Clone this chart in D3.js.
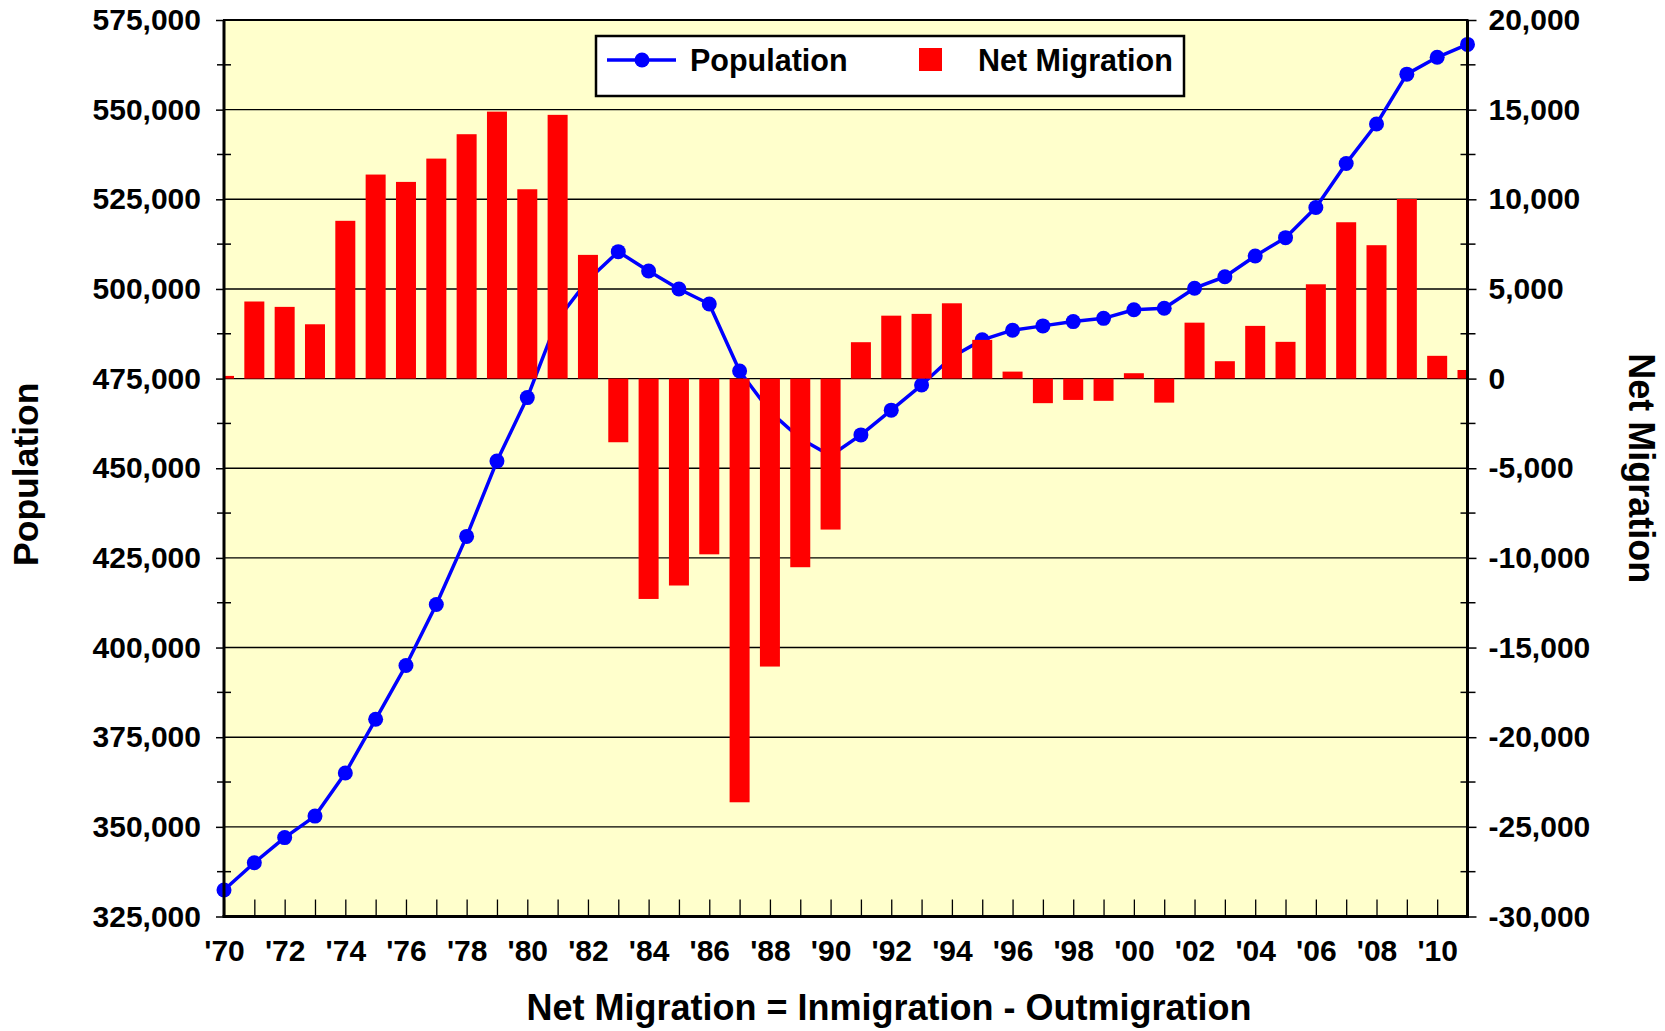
<!DOCTYPE html>
<html>
<head>
<meta charset="utf-8">
<script src="https://cdn.jsdelivr.net/npm/d3@7"></script>
<style>
  body { margin: 0; background: #ffffff; }
  svg text { font-family: "Liberation Sans", Arial, Helvetica, sans-serif; font-weight: bold; fill: #000; }
</style>
</head>
<body>
<svg id="chart" width="1665" height="1031"></svg>
<script>
// ---------------- DATA ----------------
const years = [1970,1971,1972,1973,1974,1975,1976,1977,1978,1979,
               1980,1981,1982,1983,1984,1985,1986,1987,1988,1989,
               1990,1991,1992,1993,1994,1995,1996,1997,1998,1999,
               2000,2001,2002,2003,2004,2005,2006,2007,2008,2009,
               2010,2011];

const population = [332400,340000,347000,353000,365000,380000,395000,412000,431000,452000,
                    469700,491500,502500,510400,505000,500000,495800,477100,465800,458300,
                    453500,459300,466200,473200,481000,485800,488500,489700,490900,491800,
                    494200,494600,500200,503400,509200,514300,522700,535000,546000,559900,
                    564600,568200];

const netMigration = [150,4300,4000,3030,8800,11380,10970,12270,13630,14890,
                      10560,14710,6900,-3550,-12290,-11540,-9800,-23630,-16060,-10520,
                      -8420,2030,3510,3610,4200,2160,390,-1370,-1190,-1240,
                      300,-1340,3120,970,2940,2050,5260,8720,7440,10020,
                      1270,480];

const popTicks = [325000,350000,375000,400000,425000,450000,475000,500000,525000,550000,575000];
const popMinorTicks = [337500,362500,387500,412500,437500,462500,487500,512500,537500,562500];
const migTicks = [-30000,-25000,-20000,-15000,-10000,-5000,0,5000,10000,15000,20000];
const migMinorTicks = [-27500,-22500,-17500,-12500,-7500,-2500,2500,7500,12500,17500];
const yearLabelYears = [1970,1972,1974,1976,1978,1980,1982,1984,1986,1988,1990,
                        1992,1994,1996,1998,2000,2002,2004,2006,2008,2010];

const seriesNames = ["Population", "Net Migration"];
const titles = {
  left: "Population",
  right: "Net Migration",
  bottom: "Net Migration = Inmigration - Outmigration"
};

// ---------------- LAYOUT ----------------
const plot = { left: 224, right: 1467.5, top: 20, bottom: 916.5 };
const svg = d3.select("#chart");

const x = d3.scaleLinear().domain([1970, 2011]).range([plot.left, plot.right]);
const yL = d3.scaleLinear().domain([325000, 575000]).range([plot.bottom, plot.top]);
const yR = d3.scaleLinear().domain([-30000, 20000]).range([plot.bottom, plot.top]);

const fmt = d => d3.format(",")(d).replace("\u2212", "-");

// clip
svg.append("defs").append("clipPath").attr("id", "plotClip")
  .append("rect")
  .attr("x", plot.left).attr("y", plot.top)
  .attr("width", plot.right - plot.left).attr("height", plot.bottom - plot.top);

// background
svg.append("rect")
  .attr("x", plot.left).attr("y", plot.top)
  .attr("width", plot.right - plot.left).attr("height", plot.bottom - plot.top)
  .attr("fill", "#FFFFCC");

// gridlines
svg.append("g").attr("class", "grid")
  .selectAll("line").data(popTicks.slice(1, -1)).join("line")
  .attr("x1", plot.left).attr("x2", plot.right)
  .attr("y1", d => yL(d)).attr("y2", d => yL(d))
  .attr("stroke", "#000").attr("stroke-width", 1.4);

// population line + markers (under the bars, as in reference)
const lineGen = d3.line().x((d, i) => x(years[i])).y(d => yL(d));
const popG = svg.append("g");
popG.append("path")
  .datum(population)
  .attr("d", lineGen)
  .attr("fill", "none").attr("stroke", "#0000FF").attr("stroke-width", 3.5)
  .attr("stroke-linejoin", "round");
popG.selectAll("circle").data(population).join("circle")
  .attr("cx", (d, i) => x(years[i])).attr("cy", d => yL(d))
  .attr("r", 7.5).attr("fill", "#0000FF");

// bars
const barW = 20;
const plotG = svg.append("g").attr("clip-path", "url(#plotClip)");
plotG.selectAll("rect.bar").data(netMigration).join("rect")
  .attr("class", "bar")
  .attr("x", (d, i) => x(years[i]) - barW / 2)
  .attr("width", barW)
  .attr("y", d => yR(Math.max(0, d)))
  .attr("height", d => Math.abs(yR(d) - yR(0)))
  .attr("fill", "#FF0000");

// left axis
const leftAxis = d3.axisLeft(yL).tickValues(popTicks).tickFormat(fmt).tickSize(8).tickPadding(15);
const gL = svg.append("g").attr("transform", `translate(${plot.left},0)`).call(leftAxis);
gL.select(".domain").remove();
gL.selectAll(".tick line").attr("stroke", "#000").attr("stroke-width", 1.5);
gL.selectAll(".tick text").attr("font-size", 30).attr("font-family", null);
svg.append("g").selectAll("line").data(popMinorTicks).join("line")
  .attr("x1", plot.left - 7).attr("x2", plot.left + 7)
  .attr("y1", d => yL(d)).attr("y2", d => yL(d))
  .attr("stroke", "#000").attr("stroke-width", 1.5);

// right axis
const rightAxis = d3.axisRight(yR).tickValues(migTicks).tickFormat(fmt).tickSize(9).tickPadding(12);
const gR = svg.append("g").attr("transform", `translate(${plot.right},0)`).call(rightAxis);
gR.select(".domain").remove();
gR.selectAll(".tick line").attr("stroke", "#000").attr("stroke-width", 1.5);
gR.selectAll(".tick text").attr("font-size", 30).attr("font-family", null);
svg.append("g").selectAll("line").data(migMinorTicks).join("line")
  .attr("x1", plot.right - 7).attr("x2", plot.right + 8)
  .attr("y1", d => yR(d)).attr("y2", d => yR(d))
  .attr("stroke", "#000").attr("stroke-width", 1.5);

// bottom axis
const bottomAxis = d3.axisBottom(x).tickValues(years.slice(0, -1))
  .tickFormat(d => yearLabelYears.includes(d) ? "'" + String(d).slice(2) : "")
  .tickSize(-17).tickPadding(23);
const gB = svg.append("g").attr("transform", `translate(0,${plot.bottom})`).call(bottomAxis);
gB.select(".domain").remove();
gB.selectAll(".tick line").attr("stroke", "#000").attr("stroke-width", 1.3);
gB.selectAll(".tick text").attr("font-size", 30).attr("font-family", null);

// plot border
svg.append("line").attr("x1", plot.left - 1).attr("x2", plot.right + 1)
  .attr("y1", plot.top).attr("y2", plot.top).attr("stroke", "#000").attr("stroke-width", 2.2);
svg.append("line").attr("x1", plot.left - 1.5).attr("x2", plot.right + 1.5)
  .attr("y1", plot.bottom).attr("y2", plot.bottom).attr("stroke", "#000").attr("stroke-width", 3);
svg.append("line").attr("x1", plot.left).attr("x2", plot.left)
  .attr("y1", plot.top).attr("y2", plot.bottom).attr("stroke", "#000").attr("stroke-width", 3);
svg.append("line").attr("x1", plot.right).attr("x2", plot.right)
  .attr("y1", plot.top).attr("y2", plot.bottom).attr("stroke", "#000").attr("stroke-width", 3);

// titles
svg.append("text")
  .attr("transform", `translate(38,${(plot.top + plot.bottom) / 2 + 6}) rotate(-90)`)
  .attr("text-anchor", "middle").attr("font-size", 35.5)
  .text(titles.left);
svg.append("text")
  .attr("transform", `translate(1629,${(plot.top + plot.bottom) / 2}) rotate(90)`)
  .attr("text-anchor", "middle").attr("font-size", 36)
  .text(titles.right);
svg.append("text")
  .attr("x", 889).attr("y", 1020)
  .attr("text-anchor", "middle").attr("font-size", 36)
  .text(titles.bottom);

// legend
const lg = svg.append("g");
lg.append("rect").attr("x", 596).attr("y", 36).attr("width", 588).attr("height", 60)
  .attr("fill", "#fff").attr("stroke", "#000").attr("stroke-width", 2.5);
lg.append("line").attr("x1", 607).attr("x2", 676).attr("y1", 60).attr("y2", 60)
  .attr("stroke", "#0000FF").attr("stroke-width", 3.5);
lg.append("circle").attr("cx", 642).attr("cy", 60).attr("r", 7.5).attr("fill", "#0000FF");
lg.append("text").attr("x", 690).attr("y", 71).attr("font-size", 30.5).text(seriesNames[0]);
lg.append("rect").attr("x", 919).attr("y", 48).attr("width", 23).attr("height", 23).attr("fill", "#FF0000");
lg.append("text").attr("x", 978).attr("y", 71).attr("font-size", 30.5).text(seriesNames[1]);
</script>
</body>
</html>
